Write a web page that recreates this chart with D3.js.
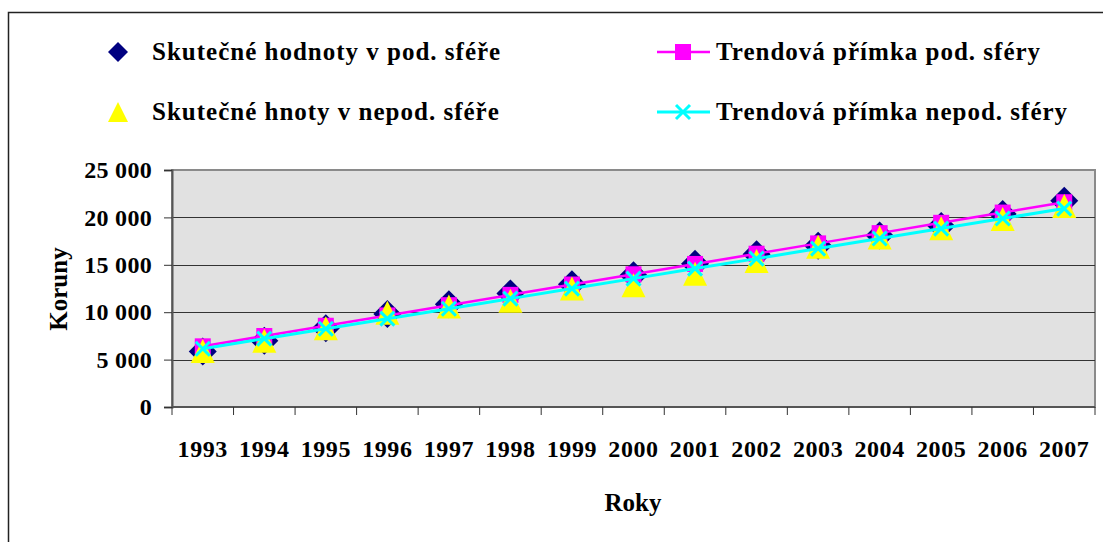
<!DOCTYPE html>
<html>
<head>
<meta charset="utf-8">
<script src="https://cdn.jsdelivr.net/npm/d3@7"></script>
<style>
  body { margin: 0; background: #fff; }
  svg { display: block; }
  text { font-family: "Liberation Serif", "Times New Roman", serif; font-weight: bold; fill: #000; }
</style>
</head>
<body>
<div id="chart"></div>
<script>
const years = ["1993", "1994", "1995", "1996", "1997", "1998", "1999", "2000",
  "2001", "2002", "2003", "2004", "2005", "2006", "2007"];
const podValues = [5850, 6980, 8300, 9800, 10850, 11980, 12940, 13890, 15100, 16100, 17020, 18100, 19080, 20350, 21750];
const nepodValues = [5900, 7000, 8300, 9950, 10600, 11200, 12500, 12850, 14050, 15400, 16900, 17870, 18850, 19830, 21200];
const podTrend = [6400, 7490, 8570, 9660, 10740, 11830, 12920, 14000, 15090, 16170, 17260, 18340, 19430, 20510, 21600];
const nepodTrend = [6150, 7210, 8260, 9320, 10370, 11430, 12490, 13540, 14600, 15650, 16710, 17770, 18820, 19880, 20930];
const yTicks = [0, 5000, 10000, 15000, 20000, 25000];

const legendItems = [
  { label: "Skutečné hodnoty v pod. sféře", kind: "diamond", col: 0, row: 0 },
  { label: "Skutečné hnoty v nepod. sféře", kind: "triangle", col: 0, row: 1 },
  { label: "Trendová přímka pod. sféry", kind: "square", col: 1, row: 0 },
  { label: "Trendová přímka nepod. sféry", kind: "cross", col: 1, row: 1 }
];

const width = 1103, height = 542;
const plot = { left: 172, right: 1095, top: 170, bottom: 407 };

const navy = "#000080", yellow = "#ffff00", magenta = "#ff00ff", cyan = "#00ffff";

const svg = d3.select("#chart").append("svg")
  .attr("width", width)
  .attr("height", height);

// outer frame (runs off the right and bottom edge)
svg.append("rect")
  .attr("x", 8.5).attr("y", 12.5)
  .attr("width", 1200).attr("height", 700)
  .attr("fill", "#fff")
  .attr("stroke", "#222")
  .attr("stroke-width", 1.5);

const x = d3.scaleBand().domain(years).range([plot.left, plot.right]);
const y = d3.scaleLinear().domain([0, 25000]).range([plot.bottom, plot.top]);
const cx = d => x(d) + x.bandwidth() / 2;

// plot background
svg.append("rect")
  .attr("x", plot.left).attr("y", plot.top)
  .attr("width", plot.right - plot.left).attr("height", plot.bottom - plot.top)
  .attr("fill", "#e1e1e1")
  .attr("stroke", "#8a8a8a")
  .attr("stroke-width", 2);

// gridlines
svg.append("g")
  .selectAll("line")
  .data(yTicks.filter(t => t > 0 && t < 25000))
  .join("line")
  .attr("x1", plot.left).attr("x2", plot.right)
  .attr("y1", d => Math.round(y(d)) + 0.5).attr("y2", d => Math.round(y(d)) + 0.5)
  .attr("stroke", "#333")
  .attr("stroke-width", 1.2);

const fmt = d => d3.format(",")(d).replace(/,/g, " ");

// y axis
const yAxis = svg.append("g")
  .attr("transform", `translate(${plot.left},0)`)
  .call(d3.axisLeft(y).tickValues(yTicks).tickSize(8).tickPadding(12).tickFormat(fmt));
yAxis.select(".domain").attr("stroke", "#555").attr("stroke-width", 2);
yAxis.selectAll(".tick line").attr("stroke", "#333");
yAxis.selectAll(".tick text")
  .attr("font-family", "Liberation Serif, serif")
  .attr("font-weight", "bold")
  .attr("font-size", 24)
  .attr("letter-spacing", 0.3)
  .attr("fill", "#000");

// x axis, ticks between categories
const xAxis = svg.append("g")
  .attr("transform", `translate(0,${plot.bottom})`);
xAxis.append("line")
  .attr("x1", plot.left).attr("x2", plot.right)
  .attr("stroke", "#555").attr("stroke-width", 2);
xAxis.selectAll("line.tick")
  .data(years.concat(["end"]))
  .join("line")
  .attr("class", "tick")
  .attr("x1", (d, i) => i < years.length ? x(d) : plot.right)
  .attr("x2", (d, i) => i < years.length ? x(d) : plot.right)
  .attr("y1", 0).attr("y2", 8)
  .attr("stroke", "#333");
xAxis.selectAll("text")
  .data(years)
  .join("text")
  .attr("x", d => cx(d))
  .attr("y", 50)
  .attr("text-anchor", "middle")
  .attr("font-size", 24)
  .attr("letter-spacing", 0.6)
  .text(d => d);

// axis titles
svg.append("text")
  .attr("x", 633).attr("y", 511)
  .attr("text-anchor", "middle")
  .attr("font-size", 25)
  .text("Roky");
svg.append("text")
  .attr("transform", "translate(67,289) rotate(-90)")
  .attr("text-anchor", "middle")
  .attr("font-size", 25)
  .text("Koruny");

// marker helpers
function diamond(g, s) {
  return g.append("path").attr("d", `M0,${-s}L${s},0L0,${s}L${-s},0Z`).attr("fill", navy);
}
function triangle(g, s) {
  return g.append("path").attr("d", `M0,${-s}L${s},${s}L${-s},${s}Z`).attr("fill", yellow);
}
function square(g, s) {
  return g.append("rect").attr("x", -s).attr("y", -s).attr("width", 2 * s).attr("height", 2 * s).attr("fill", magenta);
}
function cross(g, s) {
  return g.append("path").attr("d", `M${-s},${-s}L${s},${s}M${-s},${s}L${s},${-s}`)
    .attr("stroke", cyan).attr("stroke-width", 3).attr("fill", "none");
}

const line = d3.line().x((d, i) => cx(years[i])).y(d => y(d));

// series 1: actual values, public sector
svg.append("g").selectAll("g")
  .data(podValues)
  .join("g")
  .attr("transform", (d, i) => `translate(${cx(years[i])},${y(d)})`)
  .each(function() { diamond(d3.select(this), 14); });

// series 3: trend, public sector
svg.append("path")
  .datum(podTrend)
  .attr("d", line)
  .attr("fill", "none")
  .attr("stroke", magenta)
  .attr("stroke-width", 2.5);
svg.append("g").selectAll("g")
  .data(podTrend)
  .join("g")
  .attr("transform", (d, i) => `translate(${cx(years[i])},${y(d)})`)
  .each(function() { square(d3.select(this), 8); });

// series 2: actual values, private sector
svg.append("g").selectAll("g")
  .data(nepodValues)
  .join("g")
  .attr("transform", (d, i) => `translate(${cx(years[i])},${y(d)})`)
  .each(function() { triangle(d3.select(this), 12); });

// series 4: trend, private sector
svg.append("path")
  .datum(nepodTrend)
  .attr("d", line)
  .attr("fill", "none")
  .attr("stroke", cyan)
  .attr("stroke-width", 3);
svg.append("g").selectAll("g")
  .data(nepodTrend)
  .join("g")
  .attr("transform", (d, i) => `translate(${cx(years[i])},${y(d)})`)
  .each(function() { cross(d3.select(this), 7); });

// legend
const legend = svg.append("g");
legendItems.forEach(item => {
  const ly = 52 + item.row * 60;
  const g = legend.append("g");
  if (item.col === 0) {
    const m = g.append("g").attr("transform", `translate(118,${ly})`);
    if (item.kind === "diamond") diamond(m, 10);
    else triangle(m, 10);
    g.append("text").attr("x", 152).attr("y", ly + 8)
      .attr("font-size", 25).attr("letter-spacing", 1).text(item.label);
  } else {
    const color = item.kind === "square" ? magenta : cyan;
    g.append("line")
      .attr("x1", 657).attr("x2", 710).attr("y1", ly).attr("y2", ly)
      .attr("stroke", color).attr("stroke-width", item.kind === "square" ? 2.5 : 3);
    const m = g.append("g").attr("transform", `translate(683,${ly})`);
    if (item.kind === "square") square(m, 8);
    else cross(m, 7);
    g.append("text").attr("x", 716).attr("y", ly + 8)
      .attr("font-size", 25).attr("letter-spacing", 1).text(item.label);
  }
});
</script>
</body>
</html>
